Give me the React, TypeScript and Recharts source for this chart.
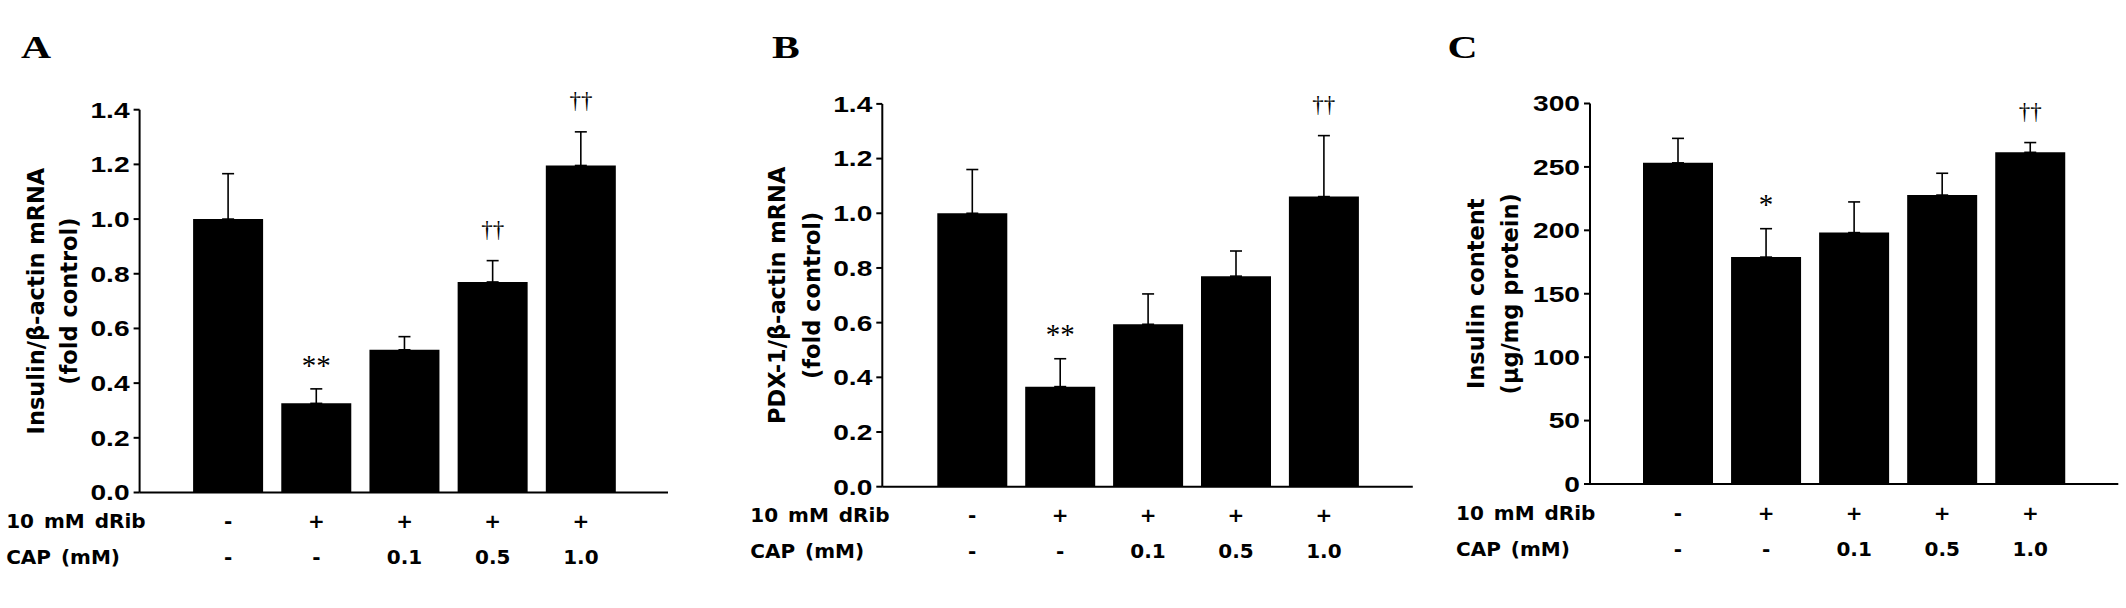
import React from "react"
import { ComposedChart, Bar, ErrorBar, Line, XAxis, YAxis } from "recharts"

// treatment groups and the two label rows under each panel
const groups = ["ctrl", "dRib", "cap01", "cap05", "cap10"]
const dRibRow = ["-", "+", "+", "+", "+"]
const capRow = ["-", "-", "0.1", "0.5", "1.0"]

// A: insulin / beta-actin mRNA (fold control)
const insulinMrna = [1.0, 0.326, 0.522, 0.77, 1.196]
const insulinMrnaErr = [0.166, 0.053, 0.048, 0.078, 0.123]
const insulinMrnaSig = ["", "**", "", "††", "††"]

// B: PDX-1 / beta-actin mRNA (fold control)
const pdx1Mrna = [1.0, 0.366, 0.594, 0.77, 1.061]
const pdx1MrnaErr = [0.16, 0.102, 0.111, 0.092, 0.223]
const pdx1MrnaSig = ["", "**", "", "", "††"]

// C: insulin content (ug/mg protein)
const insulinContent = [253.2, 178.9, 198.2, 227.8, 261.5]
const insulinContentErr = [19.3, 22.4, 24.2, 17.2, 7.7]
const insulinContentSig = ["", "*", "", "", "††"]

const foldTicks = [0, 0.2, 0.4, 0.6, 0.8, 1.0, 1.2, 1.4]
const contentTicks = [0, 50, 100, 150, 200, 250, 300]

const WIDE = "'DejaVu Sans', Verdana, sans-serif"
const SANS = "'Liberation Sans', Arial, sans-serif"
const SERIF = "'Liberation Serif', 'Times New Roman', serif"

function buildRows(values: number[], errs: number[], sigs: string[]) {
  return groups.map((g, i) => ({
    group: g,
    value: values[i],
    err: [0, errs[i]],
    sigY: sigs[i] ? values[i] + errs[i] : null,
    sig: sigs[i],
  }))
}

function YTick({ x, y, payload, decimals }: any) {
  return (
    <g transform={`translate(${x},${y})`}>
      <text
        transform="scale(1.28,1)"
        textAnchor="end"
        dy={7.9}
        fontFamily={SANS}
        fontWeight="bold"
        fontSize={22}
        fill="#000"
      >
        {Number(payload.value).toFixed(decimals)}
      </text>
    </g>
  )
}

function XTick({ x, y, payload }: any) {
  const i = groups.indexOf(payload.value)
  const common = { fontFamily: WIDE, fontWeight: "bold", fontSize: 20, fill: "#000" }
  return (
    <g>
      {i === 0 && (
        <>
          <text x={x - 222} y={y + 35.5} wordSpacing={3} {...common}>
            10 mM dRib
          </text>
          <text x={x - 222} y={y + 71.5} wordSpacing={3} {...common}>
            CAP (mM)
          </text>
        </>
      )}
      <text x={x} y={y + 35.5} textAnchor="middle" {...common}>
        {dRibRow[i]}
      </text>
      <text x={x} y={y + 71.5} textAnchor="middle" {...common}>
        {capRow[i]}
      </text>
    </g>
  )
}

function YLabel({ viewBox, lines, offsets }: any) {
  const { x, y, width, height } = viewBox
  const axisX = x + width
  const cy = y + height / 2
  return (
    <g>
      {lines.map((t: string, k: number) => {
        const bx = axisX - offsets[k]
        return (
          <text
            key={k}
            x={bx}
            y={cy}
            transform={`rotate(-90 ${bx} ${cy})`}
            textAnchor="middle"
            fontFamily={WIDE}
            fontWeight="bold"
            fontSize={22.5}
            fill="#000"
          >
            {t}
          </text>
        )
      })}
    </g>
  )
}

function SigMark(props: any) {
  const { cx, cy, payload, index } = props
  if (!payload || !payload.sig || cy == null) return <g key={`s${index}`} />
  const dagger = payload.sig.includes("†")
  return (
    <text
      key={`s${index}`}
      x={cx}
      y={cy - (dagger ? 23.6 : 14.3)}
      textAnchor="middle"
      fontFamily={SERIF}
      fontSize={dagger ? 23 : 29}
      fill="#000"
    >
      {payload.sig}
    </text>
  )
}

function Panel({
  data,
  width,
  margin,
  yWidth,
  domain,
  ticks,
  decimals,
  padding,
  labelLines,
  labelOffsets,
}: any) {
  return (
    <ComposedChart width={width} height={608} data={data} margin={margin}>
      <XAxis
        dataKey="group"
        interval={0}
        height={80}
        padding={padding}
        tickSize={0}
        tickMargin={0}
        tickLine={false}
        axisLine={{ stroke: "#000", strokeWidth: 2 }}
        tick={<XTick />}
      />
      <YAxis
        width={yWidth}
        domain={domain}
        ticks={ticks}
        interval={0}
        tickSize={6}
        tickMargin={4}
        axisLine={{ stroke: "#000", strokeWidth: 2 }}
        tickLine={{ stroke: "#000", strokeWidth: 2 }}
        tick={<YTick decimals={decimals} />}
        label={(p: any) => <YLabel {...p} lines={labelLines} offsets={labelOffsets} />}
      />
      <Bar dataKey="value" fill="#000" barSize={70} isAnimationActive={false}>
        <ErrorBar dataKey="err" width={6} stroke="#000" strokeWidth={1.6} direction="y" />
      </Bar>
      <Line
        dataKey="sigY"
        stroke="none"
        dot={SigMark}
        activeDot={false}
        legendType="none"
        isAnimationActive={false}
      />
    </ComposedChart>
  )
}

export default function App() {
  return (
    <div style={{ position: "absolute", left: 0, top: 0, width: 2126, height: 608, background: "#fff" }}>
      <div style={{ position: "absolute", left: 0, top: 0 }}>
        <Panel
          data={buildRows(insulinMrna, insulinMrnaErr, insulinMrnaSig)}
          width={700}
          margin={{ top: 109.7, right: 32, bottom: 35.5, left: 0 }}
          yWidth={139.6}
          domain={[0, 1.4]}
          ticks={foldTicks}
          decimals={1}
          padding={{ left: 44.5, right: 43 }}
          labelLines={["Insulin/β-actin mRNA", "(fold control)"]}
          labelOffsets={[96, 63]}
        />
      </div>
      <div style={{ position: "absolute", left: 700, top: 0 }}>
        <Panel
          data={buildRows(pdx1Mrna, pdx1MrnaErr, pdx1MrnaSig)}
          width={740}
          margin={{ top: 103.9, right: 27.2, bottom: 41.3, left: 0 }}
          yWidth={182.3}
          domain={[0, 1.4]}
          ticks={foldTicks}
          decimals={1}
          padding={{ left: 46, right: 45 }}
          labelLines={["PDX-1/β-actin mRNA", "(fold control)"]}
          labelOffsets={[97, 62]}
        />
      </div>
      <div style={{ position: "absolute", left: 1440, top: 0 }}>
        <Panel
          data={buildRows(insulinContent, insulinContentErr, insulinContentSig)}
          width={686}
          margin={{ top: 103.5, right: 7.7, bottom: 44, left: 0 }}
          yWidth={150}
          domain={[0, 300]}
          ticks={contentTicks}
          decimals={0}
          padding={{ left: 44, right: 44 }}
          labelLines={["Insulin content", "(μg/mg protein)"]}
          labelOffsets={[106, 72]}
        />
      </div>
      <svg
        width={2126}
        height={608}
        style={{ position: "absolute", left: 0, top: 0, pointerEvents: "none" }}
      >
        {[
          ["A", 21],
          ["B", 772],
          ["C", 1447.5],
        ].map(([t, x]) => (
          <text
            key={t as string}
            transform={`translate(${x},58) scale(1.3,1)`}
            fontFamily={SERIF}
            fontWeight="bold"
            fontSize={32}
            fill="#000"
          >
            {t}
          </text>
        ))}
      </svg>
    </div>
  )
}
